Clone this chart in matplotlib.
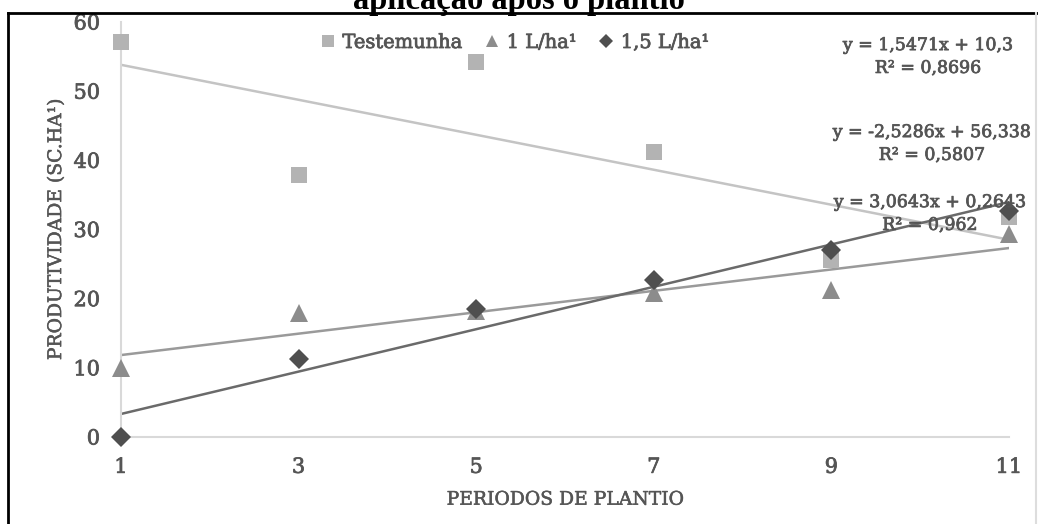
import matplotlib
matplotlib.use('Agg')
import matplotlib.pyplot as plt
import matplotlib.patheffects as pe
from matplotlib.lines import Line2D
import numpy as np

# Data
periodos = [1, 3, 5, 7, 9, 11]
testemunha = [57.1, 37.9, 54.2, 41.2, 25.6, 31.8]
dose_1 = [10.0, 18.0, 18.2, 20.8, 21.2, 29.3]
dose_15 = [0.0, 11.3, 18.5, 22.7, 27.1, 32.7]

labels = ["Testemunha", "1 L/ha\u00b9", "1,5 L/ha\u00b9"]

# trendline coefficients (as printed on the chart)
slopes = [-2.5286, 1.5471, 3.0643]
intercepts = [56.338, 10.3, 0.2643]
equations = ["y = 1,5471x + 10,3\nR\u00b2 = 0,8696",
             "y = -2,5286x + 56,338\nR\u00b2 = 0,5807",
             "y = 3,0643x + 0,2643\nR\u00b2 = 0,962"]

plt.rcParams['font.family'] = ['DejaVu Serif']
txt_color = '#555555'
# the scanned text looks heavier than a plain regular face
thick = [pe.withStroke(linewidth=0.55, foreground=txt_color)]
medium = [pe.withStroke(linewidth=0.35, foreground=txt_color)]

W, H = 1038, 524
fig = plt.figure(figsize=(W / 100, H / 100), dpi=100)
ax = fig.add_axes([121 / W, 1 - 437 / H, (1009 - 121) / W, (437 - 22) / H])

marker_colors = ['#b3b3b3', '#8c8c8c', '#4f4f4f']
line_colors = ['#c4c4c4', '#9a9a9a', '#6a6a6a']
markers = ['s', '^', 'D']
sizes = [12, 13, 10]
series = [testemunha, dose_1, dose_15]

xs = np.array([periodos[0], periodos[-1]])
for i in range(3):
    ax.plot(xs, slopes[i] * xs + intercepts[i], color=line_colors[i],
            linewidth=1.8, zorder=2)
for i in range(3):
    ax.plot(periodos, series[i], linestyle='none', marker=markers[i],
            markersize=sizes[i], color=marker_colors[i], label=labels[i],
            markeredgewidth=0, zorder=3, clip_on=False)

ax.set_xlim(1, 11)
ax.set_ylim(0, 60)
ax.set_xticks(periodos)
ax.set_yticks(range(0, 61, 10))
ax.tick_params(length=0, labelsize=15, labelcolor=txt_color)
ax.tick_params(axis='x', pad=15)
ax.tick_params(axis='y', pad=15)
for lab in ax.get_xticklabels() + ax.get_yticklabels():
    lab.set_path_effects(thick)
for s in ['top', 'right']:
    ax.spines[s].set_visible(False)
for s in ['left', 'bottom']:
    ax.spines[s].set_color('#d9d9d9')
    ax.spines[s].set_linewidth(1.5)

ax.set_xlabel('PERIODOS DE PLANTIO', fontsize=13.5, color=txt_color, labelpad=10,
              path_effects=medium)
ax.set_ylabel('PRODUTIVIDADE (SC.HA\u00b9)', fontsize=13.5, color=txt_color, labelpad=6,
              path_effects=medium)

leg = ax.legend(loc='center left', bbox_to_anchor=(322 / W, 1 - 43 / H),
                bbox_transform=fig.transFigure, ncol=3, frameon=False,
                fontsize=14, handletextpad=0.45, columnspacing=1.2,
                handlelength=0.6, markerscale=0.68, borderpad=0,
                borderaxespad=0)
for t in leg.get_texts():
    t.set_color(txt_color)
    t.set_path_effects(thick)

# equation labels
eq_pos = [(928, 57), (932, 144), (930, 214)]
for (px, py), txt in zip(eq_pos, equations):
    fig.text(px / W, 1 - py / H, txt, ha='center', va='center',
             fontsize=12.5, color=txt_color, linespacing=1.45,
             path_effects=thick)

# clipped title from the page
fig.text(0.5, 1 - 9 / H, 'aplicação após o plantio', ha='center',
         va='baseline', fontsize=23.5, fontweight='bold', color='black',
         family='Liberation Serif')

# frame
fig.add_artist(Line2D([8 / W, 8 / W], [0, 1 - 13 / H], color='black', linewidth=2))
fig.add_artist(Line2D([8 / W, 1], [1 - 13 / H, 1 - 13 / H], color='black', linewidth=2))
fig.add_artist(Line2D([1036 / W, 1036 / W], [0, 1 - 13 / H], color='#dddddd', linewidth=1.5))

fig.savefig('out.png', dpi=100)
